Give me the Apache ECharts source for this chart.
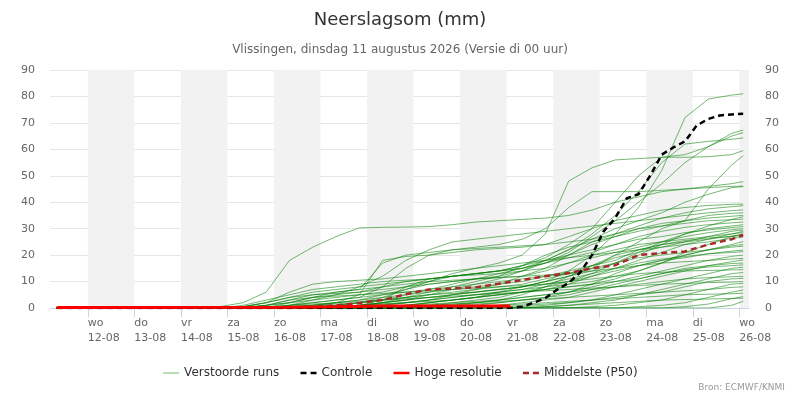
<!DOCTYPE html>
<html lang="nl">
<head>
<meta charset="UTF-8">
<title>Neerslagsom</title>
<style>
  html, body { margin: 0; padding: 0; background: #fff; }
  #chart { width: 800px; height: 400px; }
</style>
</head>
<body>
<div id="chart"></div>
<script src="https://cdn.jsdelivr.net/npm/echarts@6/dist/echarts.min.js"></script>
<script>
// tijdstippen van de pluim (lokale tijd)
var times = ['2026-08-11 08:00', '2026-08-14 08:00', '2026-08-14 20:00', '2026-08-15 08:00', '2026-08-15 20:00',
  '2026-08-16 08:00', '2026-08-16 20:00', '2026-08-17 08:00', '2026-08-17 20:00', '2026-08-18 08:00',
  '2026-08-18 20:00', '2026-08-19 08:00', '2026-08-19 20:00', '2026-08-20 08:00', '2026-08-20 20:00',
  '2026-08-21 08:00', '2026-08-21 20:00', '2026-08-22 08:00', '2026-08-22 20:00', '2026-08-23 08:00',
  '2026-08-23 20:00', '2026-08-24 08:00', '2026-08-24 20:00', '2026-08-25 08:00', '2026-08-25 20:00',
  '2026-08-26 02:00']

// verstoorde runs (mm, cumulatief)
var members = [
  [0,0,0,0,0.5,1,1.5,2,2.5,3,4,5,5.5,6,7,8,10,14,20,28,38,52,72,79,80.5,81],
  [0,0,0,0,0,0.5,1,2,3,5,7,9,10,11,12,14,17,21,27,33,40,47,55,61,66,67.3],
  [0,0,0,0,1,2,3,4,5,6,8,10,12,13,14,16,19,24,30,40,50,57,58,61,65,66.3],
  [0,0,0,0.5,1,2,4,5,6,8,10,11,12,13,14,15,18,22,28,35,44,55,62,63,63.8,64.3],
  [0,0,0,0,0,0,0.5,1,2,4,7,10,13,15,17,20,28,48,53,56,56.5,57,57,57.2,58,59.5],
  [0,0,0,0,0,0,0,0.5,1,2,3,4,5,6,7,8,10,12,15,20,25,30,33,45,54,57.6],
  [0,0,0.5,2,6,18,23,27,30.3,30.5,30.6,30.8,31.5,32.5,33,33.5,34,35,37,40,42,44,45,46,47,47.8],
  [0,0,0,0,0,1,2,3,4,8,15,20,22,23,24,26,30,38,44,44,44,44.5,45,45.5,46,46.1],
  [0,0,0,0,0,0,0,0.5,1,2,3,5,7,9,11,14,18,22,26,30,33,36,40,43,45.5,45.9],
  [0,0,0,0,0,0.5,1,2,5,18,19.5,20,21,22,22.5,23,24,27,30,33,35,37,38,38.8,39.2,39.3],
  [0,0,0,0,0,0,0,0,0.5,1,2,3,5,7,9,12,15,20,25,28,31,34,36,37.5,38.3,38.7],
  [0,0,0,0,0,1,3,5,8,12,18,22,25,26,27,28,29,30,31,32,33,34,35,36,36.8,37.1],
  [0,0,0,0,0,0,0,0.5,1,2,4,6,8,10,12,16,20,23,25,27,29,31,33,35,35.8,36],
  [0,0,0,1,3,5,7,8,9,10,10.5,11,12,13,14,15,17,20,24,27,30,32,33,34,34.7,35],
  [0,0,0,0,0,0,0,0,0,0.5,1,2,3,4,6,8,10,12,14,17,20,24,28,31,33.5,34.5],
  [0,0,0,0,0,2,4,6,7,17,20,21,22,22.5,23,23.5,24,25,26,28,30,31,32,33,33.4,33.6],
  [0,0,0,0,0,0,0.5,1,2,3,5,7,9,11,13,15,17,19,21,24,27,29,30.5,31.5,32.2,32.5],
  [0,0,0,0,0,0,0,0,0,0,0.5,1,2,3,4,6,8,10,13,17,21,25,28,30,31,31.5],
  [0,0,0,0.5,2,4,6,7,8,9,10,11,12,13,14,16,18,20,22,24,26,27,28.5,29.5,30.4,30.8],
  [0,0,0,0,0,0,0,0.5,1,3,8,11,12,12.5,13,14,15,17,19,21,23,25,27,28.5,29.6,30],
  [0,0,0,0,0,0.5,1,1.5,2,3,4,5,6,7,8,9,11,13,16,19,21,23,25,27,29,29.5],
  [0,0,0,0,0,0,0,0,0,0.5,1,2,3,4,5,6,7,9,12,15,18,21,24,26,28,29],
  [0,0,0,0,1,3,5,6,7,8,9,10,10.5,11,11.5,12,14,17,20,22,24,25,26,27,28,28.5],
  [0,0,0,0,0,0,0,0,0.5,1,2,3,4,5,6,7,8,9,10,12,14,17,21,24,27,28],
  [0,0,0,0,0,0,1,2,3,4,5,6,7,8,9,10,12,14,16,18,22,24,25,26,27.2,27.8],
  [0,0,0,0,0,0,0,0,0,0,0,0.5,1,2,3,5,8,12,16,20,22,24,25.5,26.5,27,27.4],
  [0,0,0,0.5,2,6,9,10,10.5,11,12,13,14,15,16,17,18,19,20,21,22,23,24,25,26.3,26.8],
  [0,0,0,0,0,0,0,0,0,0.5,1,2,3,4,5,6,7,8,9,11,14,17,20,22,24,25.1],
  [0,0,0,0,0,0,0,0.5,1,2,3,4,5,6,7,8,9,10,12,14,16,18,20,22,23.5,24],
  [0,0,0,0,0,1,2,3,4,5,6,7,8,9,10,11,12,13,15,17,19,20,21,22,23,23.4],
  [0,0,0,0,0,0,0,0,0,0,0,0,0.5,1,2,3,4,6,9,13,16,18,19,20.5,21.5,21.9],
  [0,0,0,0,0,0,0,0.5,1,1.5,2,3,4,5,6,7,9,11,13,15,17,18.5,19.5,20.5,21,21.3],
  [0,0,0,0,0,0,0,0,0,0,0.5,1,1.5,2,3,4,5,6,8,10,12,14,16,18,19.5,20],
  [0,0,0,0.5,2,4,5,5.5,6,7,8,9,10,11,11.5,12,12.5,13,14,15,16,17,17.5,18,18.5,18.8],
  [0,0,0,0,0,0,0,0,0,0,0,0,0,0.5,1,2,3,4,6,8,10,12,14,16,17.5,18.2],
  [0,0,0,0,0,0,0,0.5,1,1.5,2,2.5,3,4,5,6,7,8,9,10,11,13,15,16,16.8,17],
  [0,0,0,0,0,0,0,0,0,0,0,0.5,1,1.5,2,3,4,5,7,9,11,13,14.5,15.5,16,16.3],
  [0,0,0,0,0,0,0,0,0,0,0,0,0,0,0,0.5,1,2,3,5,7,9,11,13,15,15.4],
  [0,0,0,0,1,3,4,4.5,5,5.5,6,6.5,7,7.5,8,8.5,9,10,11,12,13,13.5,14,14.2,14.4,14.5],
  [0,0,0,0,0,0,0,0,0,0,0,0,0,0,0,0,0.5,1,2,3,5,7,9,11,13,13.4],
  [0,0,0,0,0,0,0,0,0,0.5,1,1.5,2,2.5,3,4,5,6,7,8,9,10,11,11.5,11.8,12],
  [0,0,0,0,0,0,0,0,0,0,0,0,0,0,0.5,1,1.5,2,3,4,5,6,8,10,11,11.2],
  [0,0,0,0,0,0,0.5,1,2,3,3.5,4,4.5,5,5.5,6,6.5,7,7.5,8,8.5,9,9.3,9.6,9.8,10],
  [0,0,0,0,0,0,0,0,0,0,0,0,0,0,0,0,0,0,0.5,1,2,3,5,7,9,9.3],
  [0,0,0,0,0,0,0,0,0,0,0.5,1,1.5,2,2.5,3,3.5,4,4.5,5,5.5,6,6.5,7,7.8,8],
  [0,0,0,0,0,0,0,0,0,0,0,0,0,0,0,0,0,0,0,0,0.5,1,2,4,6,6.8],
  [0,0,0,0,0,0,0,0,0,0,0,0,0,0.5,1,1.5,2,2.5,3,3.5,4,4.5,5,5.2,5.4,5.6],
  [0,0,0,0,0,0,0,0,0,0,0,0,0,0,0,0,0,0,0,0,0,0,0.5,1.5,3.5,4.3],
  [0,0,0,0,0,0,0,0,0,0,0,0,0,0,0,0,0.5,1,1.5,2,2.5,3,3.2,3.4,3.6,3.7],
  [0,0,0,0,0,0,0,0,0,0,0,0,0,0,0,0,0,0,0,0,0,0,0,0,1,2.5]
]

// mediaan (P50) op dezelfde tijdstippen
var median = [0,0,0,0,0,0,0.4,1,1.9,3,5.2,7,7.4,7.8,9.2,10.6,12,13.2,15,16.2,20,20.8,21.4,24,26,27.6]

// controle run, 6-uurlijks
var controlTimes = ['2026-08-11 08:00', '2026-08-21 02:00', '2026-08-21 08:00', '2026-08-21 14:00', '2026-08-21 20:00',
  '2026-08-22 02:00', '2026-08-22 08:00', '2026-08-22 14:00', '2026-08-22 20:00', '2026-08-23 02:00',
  '2026-08-23 08:00', '2026-08-23 14:00', '2026-08-23 20:00', '2026-08-24 02:00', '2026-08-24 08:00',
  '2026-08-24 14:00', '2026-08-24 20:00', '2026-08-25 02:00', '2026-08-25 08:00', '2026-08-25 14:00',
  '2026-08-25 20:00', '2026-08-26 02:00']
var control = [0,0,0.5,2,3.8,6.9,9.5,13.5,20,29,34,41.5,43,50,58,60.7,63,69,71.5,72.8,73.2,73.5]

// hoge resolutie run (loopt tot 21-08)
var hiresTimes = ['2026-08-11 08:00', '2026-08-16 08:00', '2026-08-17 08:00', '2026-08-18 08:00', '2026-08-21 02:00']
var hires = [0.2, 0.3, 0.5, 0.8, 0.8]

// grijze banden: om de dag
var bandDays = ['2026-08-12', '2026-08-14', '2026-08-16', '2026-08-18', '2026-08-20', '2026-08-22', '2026-08-24', '2026-08-26']
var dayNames = ['zo', 'ma', 'di', 'wo', 'do', 'vr', 'za']

var xMin = '2026-08-11 04:30'
var xMax = '2026-08-26 05:00'

function pairs(ts, vs) {
  return vs.map(function (v, i) { return [ts[i], v] })
}

var bands = bandDays.map(function (d) {
  var start = new Date(d + 'T00:00:00')
  var end = new Date(start.getTime() + 86400000)
  var max = echarts.time.parse(xMax)
  return [{ xAxis: start.getTime() }, { xAxis: Math.min(end.getTime(), max.getTime()) }]
})

var series = []
// lege serie voor de achtergrondbanden
series.push({
  type: 'line', name: 'bands', data: [], silent: true, z: 0,
  markArea: { silent: true, itemStyle: { color: '#f2f2f2' }, data: bands }
})
members.forEach(function (m) {
  series.push({
    type: 'line', name: 'Verstoorde runs', data: pairs(times, m),
    symbol: 'none', silent: true, z: 2,
    lineStyle: { color: 'rgba(0,128,0,0.55)', width: 1 }
  })
})
series.push({
  type: 'line', name: 'Middelste (P50)', data: pairs(times, median), symbol: 'none', z: 3,
  lineStyle: { color: '#a52a2a', width: 2.5, type: [6, 4] }, itemStyle: { color: '#a52a2a' }
})
series.push({
  type: 'line', name: 'Controle', data: pairs(controlTimes, control), symbol: 'none', z: 4,
  lineStyle: { color: '#000', width: 2.5, type: [6, 4] }, itemStyle: { color: '#000' }
})
series.push({
  type: 'line', name: 'Hoge resolutie', data: pairs(hiresTimes, hires), symbol: 'none', z: 5,
  lineStyle: { color: '#ff0000', width: 3 }, itemStyle: { color: '#ff0000' }
})

var chart = echarts.init(document.getElementById('chart'))
chart.setOption({
  animation: false,
  title: [{
    text: 'Neerslagsom (mm)', left: 'center', top: 6,
    textStyle: { fontFamily: 'DejaVu Sans', fontSize: 18, fontWeight: 'normal', color: '#333' }
  }, {
    text: 'Vlissingen, dinsdag 11 augustus 2026 (Versie di 00 uur)', left: 'center', top: 39,
    textStyle: { fontFamily: 'DejaVu Sans', fontSize: 12, fontWeight: 'normal', color: '#666' }
  }, {
    text: 'Bron: ECMWF/KNMI', right: 10, bottom: 3,
    textStyle: { fontFamily: 'DejaVu Sans', fontSize: 9, fontWeight: 'normal', color: '#999' }
  }],
  legend: {
    bottom: 16, left: 'center', itemWidth: 16, itemHeight: 8, itemGap: 20,
    itemStyle: { opacity: 0, borderWidth: 0 },
    textStyle: { fontFamily: 'DejaVu Sans', fontSize: 12, color: '#333' },
    data: [
      { name: 'Verstoorde runs', lineStyle: { color: '#9fd49f', width: 1.5 } },
      { name: 'Controle', lineStyle: { width: 2.5 } },
      { name: 'Hoge resolutie', lineStyle: { width: 2.5 } },
      { name: 'Middelste (P50)', lineStyle: { width: 2.5 } }
    ]
  },
  grid: { left: 50, right: 51, top: 70, bottom: 92 },
  xAxis: {
    type: 'time', min: xMin, max: xMax,
    minInterval: 86400000, maxInterval: 86400000,
    axisLine: { lineStyle: { color: '#ccd6eb' } },
    axisTick: { show: true, length: 9, lineStyle: { color: '#ccd6eb' } },
    splitLine: { show: false },
    axisLabel: {
      align: 'left', margin: 8, color: '#666', fontFamily: 'DejaVu Sans', fontSize: 11, lineHeight: 15,
      hideOverlap: false, showMinLabel: false, showMaxLabel: false,
      formatter: function (v) {
        var d = new Date(v)
        var dd = ('0' + d.getDate()).slice(-2)
        var mm = ('0' + (d.getMonth() + 1)).slice(-2)
        return dayNames[d.getDay()] + '\n' + dd + '-' + mm
      }
    }
  },
  yAxis: [{
    type: 'value', min: 0, max: 90, interval: 10,
    axisLine: { show: false }, axisTick: { show: false },
    splitLine: { lineStyle: { color: '#e6e6e6' } },
    axisLabel: { color: '#666', fontFamily: 'DejaVu Sans', fontSize: 11, margin: 15 }
  }, {
    type: 'value', min: 0, max: 90, interval: 10, position: 'right',
    axisLine: { show: false }, axisTick: { show: false }, splitLine: { show: false },
    axisLabel: { color: '#666', fontFamily: 'DejaVu Sans', fontSize: 11, margin: 16 }
  }],
  series: series
})
</script>
</body>
</html>
